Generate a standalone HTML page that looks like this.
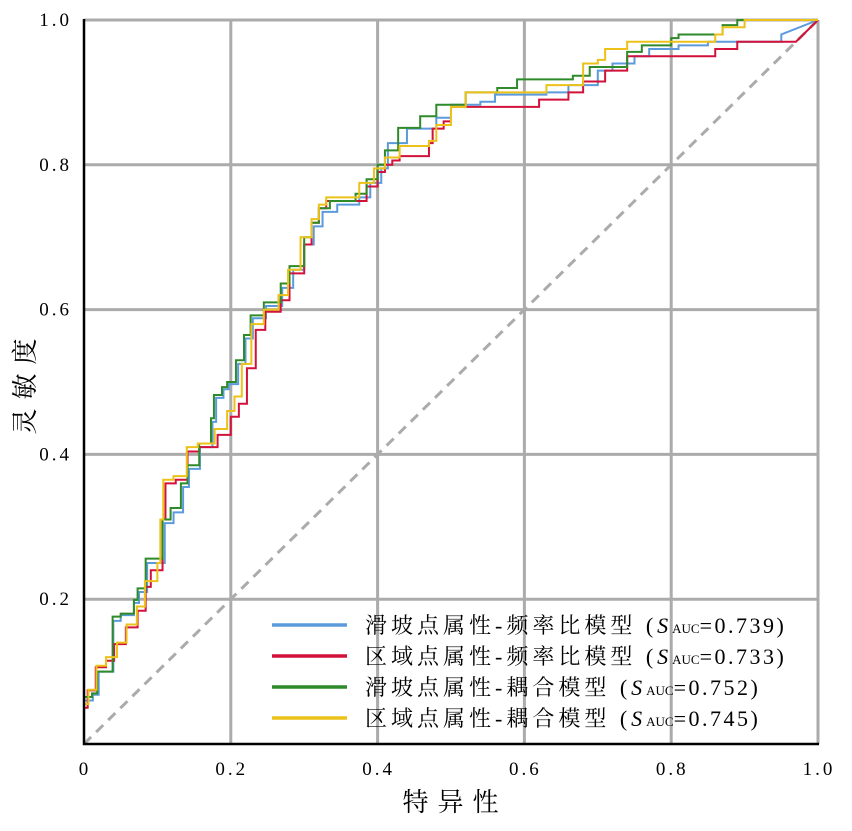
<!DOCTYPE html>
<html><head><meta charset="utf-8"><style>
body{margin:0;background:#fff}
svg{display:block;font-family:"Liberation Serif","Noto Serif CJK SC",serif}
</style></head><body>
<svg width="852" height="831" viewBox="0 0 852 831" id="chart"></svg>
<script>
const xTicks=[0,0.2,0.4,0.6,0.8,1.0];
const xTickLabels=["0","0.2","0.4","0.6","0.8","1.0"];
const yTicks=[0.2,0.4,0.6,0.8,1.0];
const yTickLabels=["0.2","0.4","0.6","0.8","1.0"];
const seriesNames=["滑坡点属性-频率比模型","区域点属性-频率比模型","滑坡点属性-耦合模型","区域点属性-耦合模型"];
const aucValues=["0.739","0.733","0.752","0.745"];
const seriesColors=["#5b9bdc","#d2123a","#2f8a2a","#ecc21a"];
const blueFpr=[0,0,0.012,0.02,0.04,0.05,0.068,0.075,0.086,0.11,0.122,0.135,0.143,0.158,0.175,0.18,0.19,0.197,0.21,0.22,0.23,0.248,0.27,0.285,0.3,0.313,0.325,0.345,0.375,0.39,0.405,0.414,0.44,0.48,0.5,0.54,0.56,0.63,0.66,0.7,0.72,0.75,0.77,0.81,0.85,0.87,0.95,1];
const blueTpr=[0,0.06,0.068,0.1,0.17,0.178,0.195,0.21,0.25,0.305,0.32,0.355,0.38,0.41,0.445,0.478,0.49,0.497,0.525,0.56,0.588,0.605,0.63,0.655,0.69,0.715,0.735,0.745,0.755,0.775,0.795,0.83,0.85,0.865,0.883,0.887,0.897,0.9,0.91,0.93,0.94,0.95,0.96,0.965,0.97,0.97,0.98,1];
const redFpr=[0,0,0.005,0.016,0.03,0.041,0.057,0.073,0.084,0.091,0.107,0.111,0.125,0.141,0.157,0.182,0.2,0.211,0.222,0.234,0.247,0.268,0.28,0.3,0.31,0.32,0.33,0.385,0.4,0.41,0.42,0.43,0.47,0.475,0.49,0.5,0.62,0.66,0.68,0.71,0.74,0.86,0.89,0.97,1];
const redTpr=[0,0.05,0.074,0.106,0.115,0.138,0.161,0.184,0.217,0.24,0.31,0.36,0.365,0.404,0.41,0.427,0.452,0.47,0.519,0.572,0.597,0.613,0.65,0.69,0.72,0.74,0.75,0.77,0.79,0.80,0.806,0.812,0.83,0.85,0.86,0.88,0.89,0.90,0.915,0.93,0.95,0.96,0.97,0.97,1];
const greenFpr=[0,0,0.011,0.018,0.039,0.05,0.068,0.073,0.084,0.107,0.118,0.132,0.141,0.157,0.173,0.177,0.188,0.195,0.207,0.218,0.227,0.245,0.268,0.28,0.3,0.31,0.32,0.335,0.37,0.385,0.4,0.41,0.428,0.458,0.48,0.52,0.563,0.59,0.666,0.689,0.74,0.76,0.8,0.81,0.87,0.89,1];
const greenTpr=[0,0.065,0.07,0.1,0.176,0.18,0.199,0.215,0.256,0.31,0.326,0.36,0.385,0.415,0.45,0.482,0.493,0.5,0.53,0.565,0.592,0.61,0.636,0.66,0.70,0.72,0.74,0.75,0.76,0.78,0.80,0.82,0.851,0.867,0.883,0.90,0.906,0.918,0.923,0.935,0.956,0.965,0.975,0.98,0.993,1,1];
const yellowFpr=[0,0,0.006,0.017,0.03,0.045,0.058,0.072,0.083,0.1,0.104,0.108,0.122,0.14,0.155,0.178,0.195,0.205,0.215,0.228,0.245,0.265,0.278,0.295,0.31,0.32,0.33,0.375,0.395,0.41,0.43,0.47,0.48,0.5,0.52,0.63,0.68,0.70,0.71,0.74,0.86,0.87,0.90,1];
const yellowTpr=[0,0.055,0.075,0.108,0.12,0.14,0.165,0.19,0.225,0.25,0.31,0.365,0.37,0.41,0.415,0.435,0.46,0.48,0.525,0.58,0.6,0.62,0.655,0.70,0.725,0.745,0.755,0.775,0.795,0.81,0.826,0.833,0.855,0.88,0.90,0.91,0.94,0.945,0.96,0.97,0.98,0.99,1,1];
const allFpr=[blueFpr,redFpr,greenFpr,yellowFpr];
const allTpr=[blueTpr,redTpr,greenTpr,yellowTpr];
const X0=84,X1=818,Y0=744,Y1=20;
const sx=v=>X0+v*(X1-X0), sy=v=>Y0-v*(Y0-Y1);
const svg=document.getElementById('chart'),NS='http://www.w3.org/2000/svg';
function mk(t,a,p){const e=document.createElementNS(NS,t);for(const k in a)e.setAttribute(k,a[k]);(p||svg).appendChild(e);return e;}
xTicks.forEach((t,i)=>{if(t>0){const l=mk('line',{x1:sx(t),x2:sx(t),y1:Y1,y2:Y0,stroke:'#ababab','stroke-width':3});

}
const tx=mk('text',{x:sx(t)+1,y:775,'text-anchor':'middle','font-size':19,'letter-spacing':3});tx.textContent=xTickLabels[i];

});
yTicks.forEach((t,i)=>{const l=mk('line',{x1:X0,x2:X1,y1:sy(t),y2:sy(t),stroke:'#ababab','stroke-width':3});


const tx=mk('text',{x:72,y:sy(t)+6,'text-anchor':'end','font-size':19,'letter-spacing':3});tx.textContent=yTickLabels[i];

});
const d=mk('line',{x1:sx(0),y1:sy(0),x2:sx(1),y2:sy(1),stroke:'#ababab','stroke-width':3,'stroke-dasharray':'10,7'});


allFpr.forEach((fx,s)=>{const fy=allTpr[s];let p=`M${sx(fx[0])},${sy(fy[0])}`;
for(let i=1;i<fx.length;i++){if(i===fx.length-1){p+=` L${sx(fx[i])},${sy(fy[i])}`;}else{p+=` H${sx(fx[i])} V${sy(fy[i])}`;}}
const e=mk('path',{d:p,fill:'none',stroke:seriesColors[s],'stroke-width':2});

});
const ax=mk('path',{d:`M${X0},${Y1-1} V${Y0} H${X1+1}`,fill:'none',stroke:'#000','stroke-width':2.5});


const lg=mk('g',{});


const ly=[625,656,687,718];
seriesNames.forEach((n,i)=>{const g=mk('g',{},lg);


mk('line',{x1:272,x2:347,y1:ly[i],y2:ly[i],stroke:seriesColors[i],'stroke-width':3.5},g);
const t=mk('text',{x:365,y:ly[i]+8,'font-size':22,'letter-spacing':4},g);
t.innerHTML=n+' (<tspan font-style="italic">S</tspan><tspan font-size="13" letter-spacing="0">AUC</tspan><tspan letter-spacing="2.5">='+aucValues[i]+')</tspan>';});
const xt=mk('text',{x:455,y:811,'text-anchor':'middle','font-size':26,'letter-spacing':9});xt.textContent='特异性';


const yt=mk('text',{x:0,y:0,'text-anchor':'middle','font-size':26,'letter-spacing':9,transform:'translate(34,382) rotate(-90)'});yt.textContent='灵敏度';


</script>
</body></html>
